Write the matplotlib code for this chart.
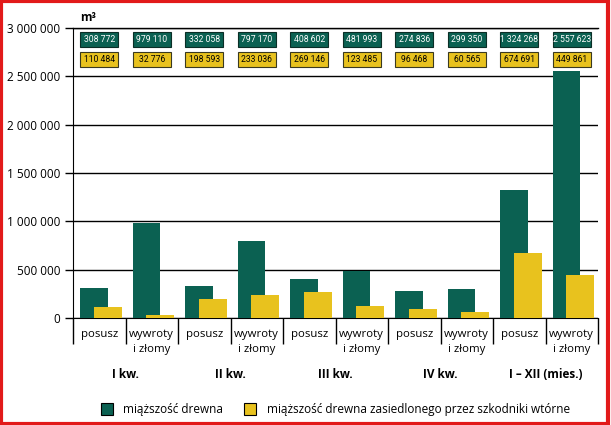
import matplotlib.pyplot as plt
import numpy as np
from matplotlib.patches import Rectangle

plt.rcParams['font.family'] = ['Open Sans', 'DejaVu Sans']

categories = ['posusz', 'wywroty\ni złomy'] * 5
groups = ['I kw.', 'II kw.', 'III kw.', 'IV kw.', 'I – XII (mies.)']
drewno = [308772, 979110, 332058, 797170, 408602, 481993, 274836, 299350, 1324268, 2557623]
zasiedlone = [110484, 32776, 198593, 233036, 269146, 123485, 96468, 60565, 674691, 449861]
yticks = [0, 500000, 1000000, 1500000, 2000000, 2500000, 3000000]

green = '#0b6152'
yellow = '#e8c21e'

def fmt(v):
    return f'{v:,}'.replace(',', ' ')

fig = plt.figure(figsize=(6.11, 4.25), dpi=100)
ax = fig.add_axes([73 / 611, 1 - 318 / 425, 525 / 611, 290 / 425])

x = np.arange(len(categories))
w = 0.53
ax.bar(x - 0.1, drewno, w, color=green, zorder=3)
ax.bar(x + 0.16, zasiedlone, w, color=yellow, zorder=4)

ax.set_xlim(-0.5, len(categories) - 0.5)
ax.set_ylim(0, 3000000)
ax.set_yticks(yticks)
ax.set_yticklabels([fmt(v) for v in yticks], fontsize=8.5)
ax.yaxis.grid(True, color='black', linewidth=1, zorder=0)
ax.tick_params(axis='y', length=6, width=1, pad=3)

ax.set_xticks(x)
ax.set_xticklabels(categories, fontsize=8.2, va='top', linespacing=1.5)
ax.tick_params(axis='x', which='major', length=0, pad=8)
ax.set_xticks(np.arange(-0.5, len(categories), 1), minor=True)
ax.tick_params(axis='x', which='minor', length=19, width=1)

ax.spines['right'].set_visible(False)
ax.spines['top'].set_linewidth(1)

# value boxes on top
bw, bh = 0.725, 165000
narrow = ['Roboto', 'DejaVu Sans']
for i in range(len(categories)):
    for yc, val, fc, ec, tc in [(2881000, drewno[i], green, '#0a2e26', 'white'),
                                (2674000, zasiedlone[i], yellow, '#3a3a20', 'black')]:
        ax.add_patch(Rectangle((i - bw / 2, yc - bh / 2), bw, bh, fc=fc, ec=ec,
                               lw=0.8, zorder=5))
        ax.text(i, yc, fmt(val), ha='center', va='center', fontsize=6.2,
                family=narrow, color=tc, zorder=6)

ax.text(0.013, 1.015, 'm³', transform=ax.transAxes, fontsize=8.5, fontweight='bold',
        ha='left', va='bottom')

for g, name in enumerate(groups):
    fig.text((73 + (2 * g + 1) * 52.5) / 611, 1 - 374 / 425, name, ha='center',
             va='center', fontsize=8.5, fontweight='bold')

# legend
fig.patches.append(Rectangle((101 / 611, 1 - 415 / 425), 12 / 611, 12 / 425,
                             transform=fig.transFigure, fc=green, ec='black', lw=0.8))
fig.text(123 / 611, 1 - 409 / 425, 'miąższość drewna', fontsize=8.5, va='center')
fig.patches.append(Rectangle((244 / 611, 1 - 415 / 425), 12 / 611, 12 / 425,
                             transform=fig.transFigure, fc=yellow, ec='black', lw=0.8))
fig.text(267 / 611, 1 - 409 / 425, 'miąższość drewna zasiedlonego przez szkodniki wtórne',
         fontsize=8.5, va='center')

# red frame
fig.patches.append(Rectangle((0.002, 0.003), 0.993, 0.994, transform=fig.transFigure,
                             fill=False, ec='#e21a1a', lw=3))

fig.savefig('out.png', dpi=100)
